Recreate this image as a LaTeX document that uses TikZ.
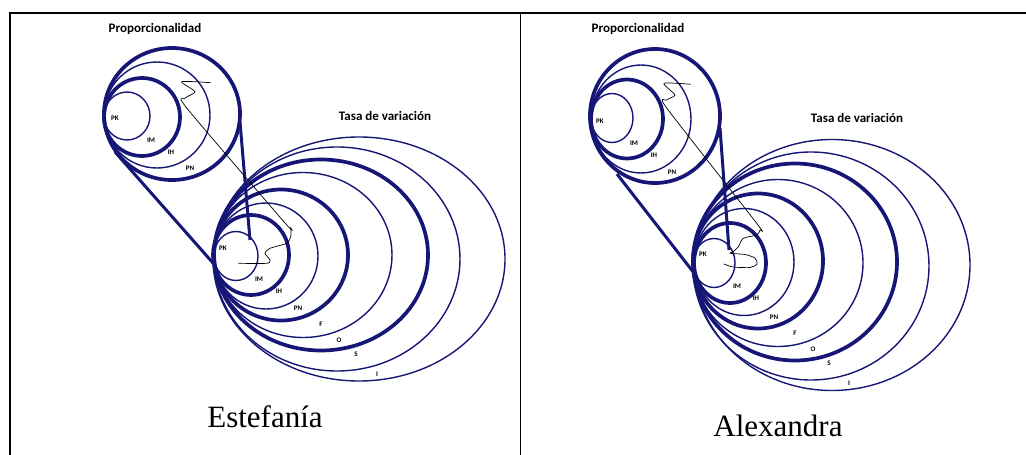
\documentclass[tikz,border=0pt]{standalone}
\usepackage{fontspec}
\setmainfont{Liberation Serif}
\newfontfamily\tagfont{Carlito}
\usepackage{xcolor}
\usepackage{tikz}
\usetikzlibrary{positioning}
\definecolor{ringblue}{RGB}{22,22,118}

\begin{document}
\begin{tikzpicture}[x=1pt, y=-1pt,
    ring/.style={draw=ringblue},
    cone/.style={draw=ringblue, line width=3pt},
    path/.style={draw=black, line width=0.7pt},
    tag/.style={font=\tagfont\bfseries\fontsize{7}{7}\selectfont, inner sep=0pt},
    title/.style={font=\tagfont\bfseries\fontsize{13}{13}\selectfont, inner sep=0pt},
    who/.style={font=\fontsize{31}{31}\selectfont, inner sep=0pt, anchor=base}]
        \useasboundingbox (0,0) rectangle (1026,455);

        % Table frame
        \draw[line width=2pt] (10,455) -- (10,12.5) -- (1026,12.5);
        \draw[line width=1pt] (520.5,12.5) -- (520.5,455);

        % Estefania: Proporcionalidad
        \foreach \cx/\cy/\rx/\ry/\w in {127/116/23/24/1.4, 142/117/38/39/3.7, 157/115/53/53/1.4, 172/114/68/66/3.7} {
          \draw[ring, line width=\w pt] (\cx,\cy) ellipse [x radius=\rx pt, y radius=\ry pt];
        }
        \foreach \t/\x/\y [count=\i] in {PK/115/118, IM/151/140, IH/171/152, PN/190/168} {
          \node[tag] (ep\i) at (\x,\y) {\t};
        }

        % Estefania: Tasa de variacion
        \foreach \cx/\cy/\rx/\ry/\w in {236/256/22/24.5/1.4, 251/255/38/40/3.7, 266/256/52/53/1.4, 281/255/67/65.5/3.7,
                                       303/255/89/82.5/1.4, 321/255/107/95.5/3.7, 337/259/123/112/1.4, 359/259/146/122/1.4} {
          \draw[ring, line width=\w pt] (\cx,\cy) ellipse [x radius=\rx pt, y radius=\ry pt];
        }
        \foreach \t/\x/\y [count=\i] in {PK/223/248, IM/259/279, IH/279/291, PN/298/308, F/321/324, O/339/340, S/356/354, I/377/374} {
          \node[tag] (et\i) at (\x,\y) {\t};
        }

        % Estefania: cone and path
        \coordinate (eA) at (240,122);
        \coordinate (eB) at (250,240);
        \coordinate (eC) at (115,152);
        \coordinate (eD) at (213,263);
        \draw[cone] (eA) -- (eB);
        \draw[cone] (eC) -- (eD);
        \draw[path] plot[smooth, tension=0.4] coordinates {(210.7,82.7) (181.7,81.7) (195,91.7) (185,98.3) (186.7,108)
          (285,223) (290.7,228) (290.7,236.7) (286.7,243.3) (270,248.3) (265,253.3) (270,260) (266.7,263.3) (238.3,263.3)};

        \node[title] (ePro) at (155,29) {Proporcionalidad};
        \node[title] (eTasa) at (385,116) {Tasa de variación};
        \node[who] (est) at (265,427) {Estefanía};

        % Alexandra: Proporcionalidad
        \foreach \cx/\cy/\rx/\ry/\w in {612/118/21/24.5/1.4, 627/119/36/39.5/3.7, 641/119/50/54/1.4, 655/116/65/67/3.7} {
          \draw[ring, line width=\w pt] (\cx,\cy) ellipse [x radius=\rx pt, y radius=\ry pt];
        }
        \foreach \t/\x/\y [count=\i] in {PK/600/121, IM/634/143, IH/654/155, PN/672/172} {
          \node[tag] (ap\i) at (\x,\y) {\t};
        }

        % Alexandra: Tasa de variacion
        \foreach \cx/\cy/\rx/\ry/\w in {714/263/21/24.5/1.4, 730/263/36/40/3.7, 744/262/50/53.5/1.4, 758/261/65/67.5/3.7,
                                       778/263/85/83.5/1.4, 795/262/102/98.5/3.7, 811/266/118/114/1.4, 832/265/138/125.5/1.4} {
          \draw[ring, line width=\w pt] (\cx,\cy) ellipse [x radius=\rx pt, y radius=\ry pt];
        }
        \foreach \t/\x/\y [count=\i] in {PK/703/254, IM/737/286, IH/756/298, PN/774/317, F/795/333, O/813/349, S/829/363, I/849/383} {
          \node[tag] (at\i) at (\x,\y) {\t};
        }

        % Alexandra: cone and path
        \coordinate (aA) at (720,128);
        \coordinate (aB) at (729,250);
        \coordinate (aC) at (617,174);
        \coordinate (aD) at (694,273);
        \draw[cone] (aA) -- (aB);
        \draw[cone] (aC) -- (aD);
        \draw[path] plot[smooth, tension=0.4] coordinates {(690.7,84.3) (664,83.3) (675,95) (666.7,100) (666.7,108)
          (756.7,223.3) (760,230) (756.7,235) (743.3,238.3) (738.3,246.7) (733.3,251.7) (730,253.3) (745,254.5)
          (755,258) (757,264) (750,267.5) (733,267) (724,264)};

        \node[title] (aPro) at (638,29) {Proporcionalidad};
        \node[title] (aTasa) at (857,118) {Tasa de variación};
        \node[who] (alx) at (778,436) {Alexandra};
      \end{tikzpicture}
\end{document}
